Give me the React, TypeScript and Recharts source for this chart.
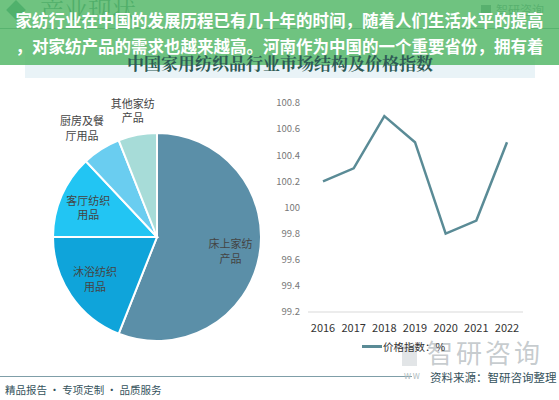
import React from "react"
import { PieChart, Pie, Cell, LineChart, Line, XAxis, YAxis } from "recharts"

// 市场结构（%）
const SEGMENTS = ["床上家纺产品", "沐浴纺织用品", "客厅纺织用品", "厨房及餐厅用品", "其他家纺产品"]
const SHARES = [56, 19, 13, 6, 6]
const SEG_COLORS = ["#5b8fa8", "#0fa4da", "#22c5f3", "#6acdf0", "#a7dcd8"]

// 价格指数
const YEARS = ["2016", "2017", "2018", "2019", "2020", "2021", "2022"]
const PRICE_INDEX = [100.2, 100.3, 100.7, 100.5, 99.8, 99.9, 100.5]
const Y_TICKS = [99.2, 99.4, 99.6, 99.8, 100, 100.2, 100.4, 100.6, 100.8]

const pieData = SEGMENTS.map((name, i) => ({ name, value: SHARES[i] }))
const lineData = YEARS.map((year, i) => ({ year, value: PRICE_INDEX[i] }))

const FONT = '"Noto Sans CJK SC", "Noto Sans", sans-serif'
const SERIF = '"Noto Serif CJK SC", "Noto Sans CJK SC", serif'
const RAD = Math.PI / 180

function renderLabel(props: any) {
  const { cx, cy, midAngle, outerRadius, name, index } = props
  // 小扇区标签放在外面
  const outside = index >= 3
  const r = outside ? outerRadius * 1.24 : outerRadius * 0.72
  const x = cx + r * Math.cos(-midAngle * RAD) - (index === 3 ? 6 : 0)
  const y = cy + r * Math.sin(-midAngle * RAD)
  const first = name.slice(0, 4)
  const rest = name.slice(4)
  return (
    <text x={x} y={y} textAnchor="middle" fill="#444" fontSize={11} fontFamily={FONT}>
      <tspan x={x} dy="-0.25em">{first}</tspan>
      <tspan x={x} dy="1.35em">{rest}</tspan>
    </text>
  )
}

export default function App() {
  return (
    <div
      style={{
        position: "absolute",
        left: 0,
        top: 0,
        width: 559,
        height: 400,
        background: "#fff",
        overflow: "hidden",
        fontFamily: FONT,
      }}
    >
      {/* 页眉（被横幅盖住） */}
      <div style={{ position: "absolute", left: 9, top: 3, width: 14, height: 14, background: "#3f8f86", transform: "rotate(45deg)" }} />
      <div style={{ position: "absolute", left: 40, top: -9, fontSize: 24, fontFamily: SERIF, color: "#3f7f76" }}>产业现状</div>
      <div style={{ position: "absolute", left: 481, top: 5, width: 10, height: 10, background: "#6f8a90" }} />
      <div style={{ position: "absolute", left: 496, top: 1, fontSize: 12, color: "#6f8a90" }}>智研咨询</div>
      <div style={{ position: "absolute", left: 0, top: 28, width: 559, height: 1, background: "#6f9e94" }} />

      {/* 标题底色 */}
      <div style={{ position: "absolute", left: 25, top: 50, width: 510, height: 28, background: "#e9f3f7" }} />

      {/* 绿色横幅 */}
      <div
        style={{
          position: "absolute",
          left: 0,
          top: 0,
          width: 559,
          height: 65,
          background: "rgba(84, 184, 104, 0.84)",
          color: "#fff",
          fontWeight: 700,
          fontSize: 16.5,
          lineHeight: "26px",
          paddingTop: 7,
          boxSizing: "border-box",
          textAlign: "center",
          whiteSpace: "nowrap",
        }}
      >
        <div>家纺行业在中国的发展历程已有几十年的时间，随着人们生活水平的提高</div>
        <div>，对家纺产品的需求也越来越高。河南作为中国的一个重要省份，拥有着</div>
      </div>

      {/* 标题 */}
      <div
        style={{
          position: "absolute",
          left: 25,
          top: 50,
          width: 510,
          textAlign: "center",
          lineHeight: "26px",
          fontSize: 17,
          fontWeight: 700,
          fontFamily: SERIF,
          color: "#2e5a55",
        }}
      >
        中国家用纺织品行业市场结构及价格指数
      </div>

      {/* 饼图 */}
      <div style={{ position: "absolute", left: 0, top: 80 }}>
        <PieChart width={300} height={300}>
          <Pie
            data={pieData}
            dataKey="value"
            nameKey="name"
            cx={152}
            cy={152}
            outerRadius={104}
            startAngle={90}
            endAngle={-270}
            stroke="#fff"
            strokeWidth={2}
            label={renderLabel}
            labelLine={false}
            isAnimationActive={false}
          >
            {pieData.map((d, i) => (
              <Cell key={d.name} fill={SEG_COLORS[i]} />
            ))}
          </Pie>
        </PieChart>
      </div>

      {/* 折线图 */}
      <div style={{ position: "absolute", left: 265, top: 90 }}>
        <LineChart width={275} height={260} data={lineData} margin={{ top: 13, right: 17, bottom: 8, left: 0 }}>
          <XAxis
            dataKey="year"
            axisLine={{ stroke: "#d9d9d9" }}
            tickLine={false}
            tickMargin={6}
            padding={{ left: 15, right: 16 }}
            tick={{ fontSize: 11, fill: "#333", fontFamily: FONT }}
            height={30}
            interval={0}
          />
          <YAxis
            domain={[99.2, 100.8]}
            ticks={Y_TICKS}
            axisLine={false}
            tickLine={false}
            width={43}
            tick={{ fontSize: 9.5, fill: "#777", fontFamily: FONT }}
            tickFormatter={(v: number) => String(Number(v.toFixed(1)))}
          />
          <Line
            type="linear"
            dataKey="value"
            stroke="#5a8b96"
            strokeWidth={2.5}
            dot={false}
            isAnimationActive={false}
          />
        </LineChart>
      </div>

      {/* 水印标志 */}
      <div style={{ position: "absolute", left: 402, top: 345, width: 15, height: 21, background: "rgba(160,170,175,0.3)" }} />
      <div style={{ position: "absolute", left: 427, top: 333, fontSize: 26, color: "rgba(150,160,165,0.55)", letterSpacing: 3 }}>智研咨询</div>

      {/* 图例 */}
      <div style={{ position: "absolute", left: 362, top: 339, display: "flex", alignItems: "center", fontSize: 10.5, color: "#333" }}>
        <span style={{ display: "inline-block", width: 20, height: 2.5, background: "#5a8b96", marginRight: 1 }} />
        价格指数：%
      </div>

      {/* 页脚 */}
      <div style={{ position: "absolute", left: 0, top: 376, width: 412, height: 1, background: "#7f9ea8" }} />
      <div style={{ position: "absolute", left: 404, top: 370, fontSize: 8, color: "#b0bcc0" }}>W W</div>
      <div style={{ position: "absolute", left: 430, top: 369, fontSize: 11.5, color: "#35525c" }}>资料来源：智研咨询整理</div>
      <div style={{ position: "absolute", left: 5, top: 382, fontSize: 10.5, color: "#35525c" }}>精品报告 · 专项定制 · 品质服务</div>
    </div>
  )
}
